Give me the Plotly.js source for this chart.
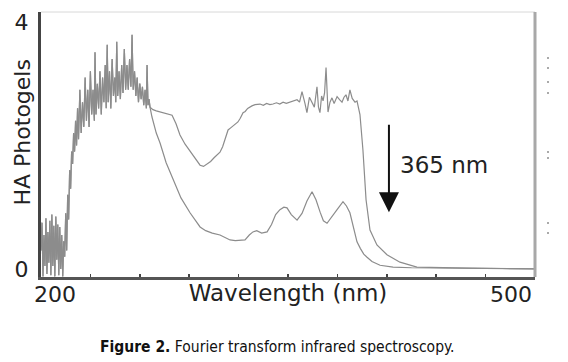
<!DOCTYPE html>
<html>
<head>
<meta charset="utf-8">
<script src="https://cdn.plot.ly/plotly-3.0.1.min.js"></script>
<style>
  html, body { margin: 0; padding: 0; background: #fff; }
  #chart { width: 568px; height: 362px; }
</style>
</head>
<body>
<div id="chart"></div>
<script>
// ---- shared noisy start (both spectra overlap here) ----
const sharedNm = [200, 200.6, 201.2, 201.8, 202.4, 203, 203.6, 204.2, 204.8, 205.4, 206, 206.6, 207.2, 207.8, 208.4, 209, 209.6, 210.2, 210.8, 211.4, 212, 212.6, 213.2, 213.8, 214.4,
  215, 215.6, 216.2, 216.8, 217.4, 218, 218.6, 219.2, 219.8, 220.4, 221, 221.6, 222.2,
  222.8, 223.6, 224.4, 225.2, 226, 226.8, 227.6, 228.4, 229.2, 230, 230.8, 231.6, 232.4, 232.8, 233.4, 234.2, 235, 235.8, 236.6, 237.4, 238.2, 239, 239.6, 240.2, 240.8, 241.6, 242.4, 243.2, 244, 244.8, 245.4, 246, 246.6, 247.4, 248.2, 249, 249.8, 250.6, 251.4, 252.2, 253, 253.8, 254.6, 255.3, 256, 256.8, 257.6, 258.4, 259.2, 260, 260.8, 261.6, 262.4, 263.2, 264, 264.4, 265, 265.6, 266.2];
const sharedVal = [0.3, 0.75, -0.12, 0.55, 0.05, 0.82, -0.08, 0.6, 0.1, 0.78, -0.1, 0.88, 0.05, 0.7, -0.12, 0.85, 0.15, 0.72, -0.1, 0.68, 0.0, 0.55, -0.12, 0.45, 0.2,
  0.9, 0.3, 1.2, 0.8, 1.6, 1.3, 1.9, 1.7, 2.2, 1.9, 2.4, 2.0, 2.6,
  2.1, 2.9, 2.2, 2.7, 2.3, 3.1, 2.4, 2.9, 2.3, 3.2, 2.5, 2.9, 2.4, 3.51, 2.5, 3.0, 2.6, 3.2, 2.5, 3.1, 2.7, 3.3, 2.6, 3.63, 2.7, 3.2, 2.6, 3.4, 2.8, 3.1, 2.7, 3.68, 2.8, 3.2, 2.75, 3.3, 2.85, 3.56, 2.9, 3.3, 2.9, 3.4, 2.95, 3.79, 2.9, 3.2, 2.8, 3.1, 2.7, 3.0, 2.75, 2.95, 2.65, 2.9, 2.6, 3.30, 2.65, 2.75, 2.62];

// ---- upper spectrum (before irradiation) ----
const upperNm = [268, 270, 274.1, 277, 279.6, 282, 284.4, 287.5, 290.5, 293.5, 296.6, 298.7, 300.8, 303, 305.1, 307, 308.7, 310.3, 311.7, 313.6, 315, 316.6, 318, 319.6, 321, 322.7, 324, 325.5, 328.1, 330, 333, 335, 337, 339, 340.9, 343, 345, 347, 349, 351.2, 353, 355.5, 357, 358.5, 360.3, 361.5, 363, 364.6, 366, 367.6, 368.5, 369.4, 370.4, 371.3, 372.2, 373.1, 374.3, 375.5, 376.7, 378, 379.8, 381.3, 382.8, 384, 385.2, 386.4, 387.6, 389, 390.7, 391.9, 393.7, 395.5, 397.4, 399.8, 404, 410.1, 418, 428.3, 440, 460, 480, 500];
const upperVal = [2.58, 2.56, 2.53, 2.51, 2.49, 2.35, 2.17, 2.02, 1.91, 1.78, 1.68, 1.66, 1.70, 1.74, 1.80, 1.85, 1.89, 1.98, 2.09, 2.25, 2.28, 2.32, 2.35, 2.38, 2.44, 2.53, 2.55, 2.60, 2.64, 2.66, 2.67, 2.65, 2.68, 2.66, 2.67, 2.69, 2.67, 2.70, 2.68, 2.70, 2.72, 2.74, 2.70, 2.87, 2.68, 2.53, 2.78, 2.70, 2.62, 2.95, 2.62, 2.53, 2.80, 2.72, 2.85, 3.26, 2.54, 2.70, 2.77, 2.68, 2.79, 2.74, 2.70, 2.78, 2.82, 2.72, 2.90, 2.76, 2.70, 2.72, 2.5, 1.93, 1.12, 0.63, 0.39, 0.23, 0.11, 0.03, 0.02, 0.015, 0.008, 0.0];

// ---- lower spectrum (after 365 nm irradiation) ----
const lowerNm = [267.4, 270, 272.3, 276, 280.2, 285, 290.5, 293.5, 296.6, 300, 304, 308.7, 312, 314.8, 318, 321, 323.9, 326.5, 328.7, 331, 334, 337.3, 340, 342.5, 345.1, 347.5, 349.4, 352, 355.5, 358.5, 361.5, 364.6, 367, 369.5, 371.5, 373.7, 376.5, 379.8, 383.4, 385.5, 387.6, 389.5, 391.9, 394, 396, 398, 401, 405.9, 413.8, 425, 450, 480, 500];
const lowerVal = [2.46, 2.2, 2.04, 1.72, 1.44, 1.15, 0.91, 0.79, 0.68, 0.62, 0.58, 0.55, 0.50, 0.47, 0.46, 0.46, 0.47, 0.55, 0.60, 0.62, 0.58, 0.60, 0.72, 0.88, 0.96, 1.00, 0.99, 0.88, 0.79, 0.90, 1.10, 1.25, 1.12, 0.92, 0.78, 0.74, 0.85, 0.96, 1.09, 1.02, 0.91, 0.72, 0.44, 0.33, 0.24, 0.19, 0.12, 0.06, 0.03, 0.02, 0.01, 0.005, 0.0];

// ---- axis text ----
const xTickLabels = ["200", "500"];
const yTickVals = [0, 4];
const yTickText = ["0", "4"];
const xMinorTicks = [200, 230, 260, 290, 320, 350, 380, 410, 440, 470, 500];
const arrowFrom = 2.36, arrowTo = 0.92, arrowNm = 411.3;
const arrowLabel = "365 nm";

const FONT = "DejaVu Sans, Verdana, sans-serif";
const CAPFONT = "DejaVu Sans Condensed, Liberation Sans Narrow, sans-serif";
const lineStyle = {color: "#8c8c8c", width: 1.2};

const traces = [
  {x: sharedNm.concat(upperNm), y: sharedVal.concat(upperVal), mode: "lines", line: lineStyle, hoverinfo: "skip", name: "before"},
  {x: sharedNm.concat(lowerNm), y: sharedVal.concat(lowerVal), mode: "lines", line: lineStyle, hoverinfo: "skip", name: "after"}
];

// scan speckles at right margin
const speckY = [58, 68, 82, 93, 152, 158, 223, 233];
const shapes = [
  {type: "line", xref: "paper", yref: "paper", x0: 0, x1: 1, y0: 1, y1: 1, line: {color: "#d8d8d8", width: 1}},
  {type: "line", xref: "paper", yref: "paper", x0: 1, x1: 1, y0: 0, y1: 1, line: {color: "#a8a8a8", width: 3}}
].concat(speckY.map(py => ({type: "rect", xref: "paper", yref: "paper",
  x0: (547 - 41) / 494, x1: (549 - 41) / 494, y0: (277 - py - 1) / 265, y1: (277 - py + 1) / 265,
  line: {width: 0}, fillcolor: "#aaaaaa"})));

const layout = {
  width: 568, height: 362,
  margin: {l: 41, r: 33, t: 12, b: 85},
  paper_bgcolor: "#fff", plot_bgcolor: "#fff",
  showlegend: false,
  font: {family: FONT, color: "#222"},
  xaxis: {
    range: [200, 500], showgrid: false, zeroline: false,
    showline: true, linecolor: "#555", linewidth: 3,
    tickmode: "array", tickvals: xMinorTicks, ticks: "inside", ticklen: 3, tickwidth: 1.5, tickcolor: "#444",
    showticklabels: false,
    title: {text: "Wavelength (nm)", font: {size: 23, color: "#222", family: FONT}, standoff: 6}
  },
  yaxis: {
    range: [-0.13, 4.16], showgrid: false, zeroline: false,
    showline: true, linecolor: "#444", linewidth: 3,
    tickmode: "array", tickvals: yTickVals, ticktext: yTickText, ticks: "",
    tickfont: {size: 22, color: "#222", family: FONT}, ticklabelstandoff: 5
  },
  shapes: shapes,
  annotations: [
    {text: xTickLabels[0], xref: "x", yref: "paper", x: 200, y: 0, xanchor: "left", yanchor: "middle", xshift: -9, yshift: -17, showarrow: false, font: {size: 22, color: "#222", family: FONT}},
    {text: xTickLabels[1], xref: "x", yref: "paper", x: 500, y: 0, xanchor: "right", yanchor: "middle", xshift: -1, yshift: -17, showarrow: false, font: {size: 22, color: "#222", family: FONT}},
    {text: "HA Photogels", xref: "paper", yref: "paper", x: (22 - 41) / 494, y: (277 - 132.5) / 265, xanchor: "center", yanchor: "middle", textangle: -90, showarrow: false, font: {size: 22, color: "#222", family: FONT}},
    {text: "", x: arrowNm, y: arrowTo, ax: arrowNm, ay: arrowFrom, xref: "x", yref: "y", axref: "x", ayref: "y", showarrow: true, arrowhead: 2, arrowwidth: 2, arrowsize: 2, arrowcolor: "#111"},
    {text: arrowLabel, x: 416.8, y: 1.68, xref: "x", yref: "y", xanchor: "left", yanchor: "middle", showarrow: false, font: {size: 23, color: "#222", family: FONT}},
    {text: "<b>Figure 2.</b> Fourier transform infrared spectroscopy.", xref: "paper", yref: "paper", x: (276.5 - 41) / 494, y: (277 - 347) / 265, xanchor: "center", yanchor: "middle", showarrow: false, font: {size: 15.5, color: "#111", family: CAPFONT}}
  ]
};

Plotly.newPlot("chart", traces, layout, {staticPlot: true, displayModeBar: false});
</script>
</body>
</html>
